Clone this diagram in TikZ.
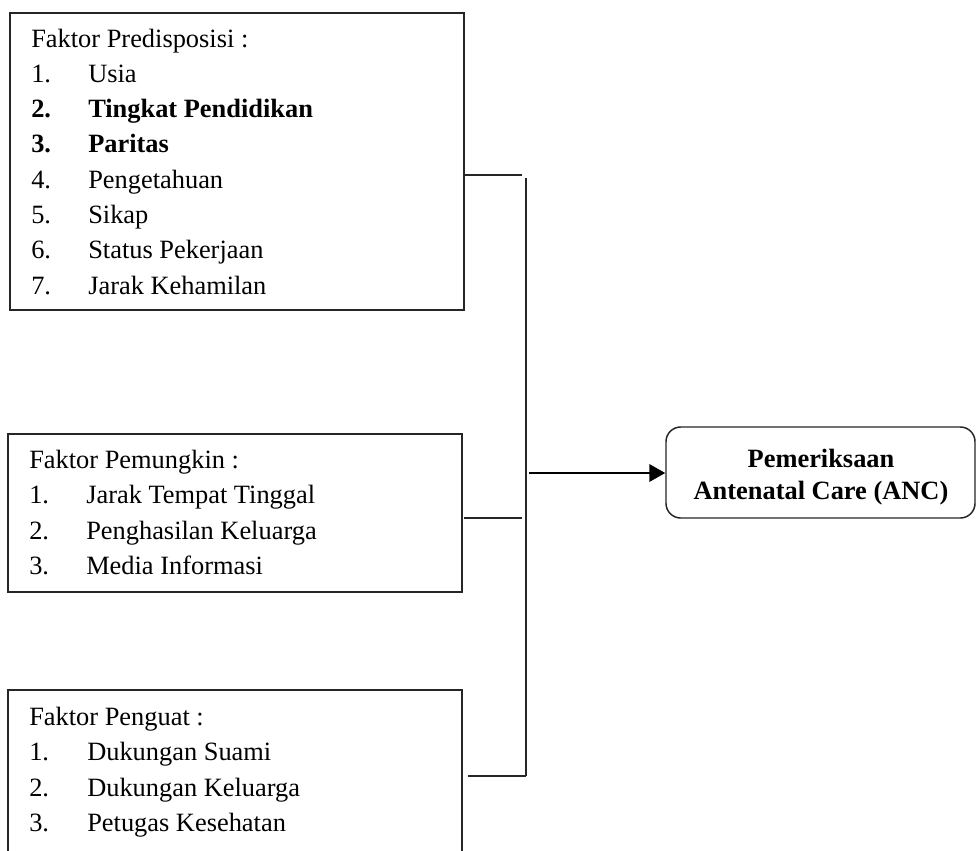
\documentclass[tikz,border=0pt]{standalone}
\usepackage{fontspec}
\setmainfont{Liberation Serif}
\usetikzlibrary{arrows.meta,fit}
\begin{document}
\begin{tikzpicture}[x=0.75pt,y=-0.75pt,
  fbox/.style={draw=black!85, line width=1.1pt, inner sep=0pt},
  txt/.style={anchor=base west, inner sep=0pt, font=\fontsize{19.8}{23}\selectfont},
  btxt/.style={txt, font=\fontsize{19.8}{23}\selectfont\bfseries},
  ctxt/.style={anchor=base, inner sep=0pt, font=\fontsize{19.8}{23}\selectfont\bfseries},
  conn/.style={draw=black!85, line width=1.1pt},
  arr/.style={draw=black, line width=2pt, -{Triangle[length=12pt,width=13pt]}}]
\useasboundingbox (0,0) rectangle (977,850);
\clip (0,0) rectangle (977,850);
\fill[white] (0,0) rectangle (977,850);

% Box 1
\node[fbox, fit={(10,13) (464,310)}] (b1) {};
\node[txt] (b1h) at (31,47) {Faktor Predisposisi :};
\node[txt] (b1n1) at (31,82.3) {1.};   \node[txt] (b1i1) at (88,82.3) {Usia};
\node[btxt] (b1n2) at (31,117.6) {2.}; \node[btxt] (b1i2) at (88,117.6) {Tingkat Pendidikan};
\node[btxt] (b1n3) at (31,152.9) {3.}; \node[btxt] (b1i3) at (88,152.9) {Paritas};
\node[txt] (b1n4) at (31,188.2) {4.};  \node[txt] (b1i4) at (88,188.2) {Pengetahuan};
\node[txt] (b1n5) at (31,223.5) {5.};  \node[txt] (b1i5) at (88,223.5) {Sikap};
\node[txt] (b1n6) at (31,258.8) {6.};  \node[txt] (b1i6) at (88,258.8) {Status Pekerjaan};
\node[txt] (b1n7) at (31,294.1) {7.};  \node[txt] (b1i7) at (88,294.1) {Jarak Kehamilan};

% Box 2
\node[fbox, fit={(8,434) (462,592)}] (b2) {};
\node[txt] (b2h) at (29,468.3) {Faktor Pemungkin :};
\node[txt] (b2n1) at (29,503.8) {1.}; \node[txt] (b2i1) at (86,503.8) {Jarak Tempat Tinggal};
\node[txt] (b2n2) at (29,539.3) {2.}; \node[txt] (b2i2) at (86,539.3) {Penghasilan Keluarga};
\node[txt] (b2n3) at (29,574.8) {3.}; \node[txt] (b2i3) at (86,574.8) {Media Informasi};

% Box 3 (cut by the page bottom)
\node[fbox, fit={(8,690) (462,890)}] (b3) {};
\node[txt] (b3h) at (29,725) {Faktor Penguat :};
\node[txt] (b3n1) at (29,760.6) {1.}; \node[txt] (b3i1) at (87,760.6) {Dukungan Suami};
\node[txt] (b3n2) at (29,796.2) {2.}; \node[txt] (b3i2) at (87,796.2) {Dukungan Keluarga};
\node[txt] (b3n3) at (29,831.8) {3.}; \node[txt] (b3i3) at (87,831.8) {Petugas Kesehatan};

% Outcome box
\node[fbox, rounded corners=11pt, fit={(666,427) (975,518)}] (anc) {};
\node[ctxt] (anc1) at (821,467) {Pemeriksaan};
\node[ctxt] (anc2) at (821,499) {Antenatal Care (ANC)};

% Connectors
\coordinate (j1) at (522,175);
\coordinate (vt) at (526,178);
\coordinate (vb) at (526,776);
\coordinate (s2) at (464,518);
\coordinate (j2) at (522,518);
\coordinate (s3) at (468,776);
\coordinate (a0) at (529,473);
\draw[conn] (b1.east |- j1) -- (j1);
\draw[conn] (vt) -- (vb);
\draw[conn] (s2) -- (j2);
\draw[conn] (s3) -- (vb);
\draw[arr] (a0) -- (anc.west |- a0);
\end{tikzpicture}
\end{document}
